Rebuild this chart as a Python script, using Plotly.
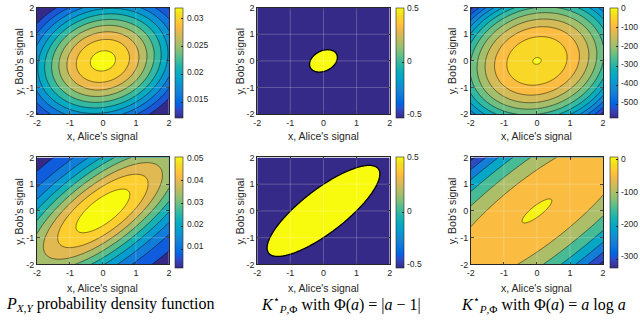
import numpy as np
import plotly.graph_objects as go

# ---------------- data ----------------
tick_vals = [-2, -1, 0, 1, 2]
tick_text = ["-2", "-1", "0", "1", "2"]
grid_vals = [-1, 0, 1]

# P_{X,Y}: peak value, curvature along the diagonal (u) and anti-diagonal (v)
pdf_peak = [0.0306, 0.048]
pdf_diag = [0.120, 0.0558]
pdf_anti = [0.158, 0.37]
pdf_levels = [[0.012, 0.030, 0.002], [0.005, 0.045, 0.005]]
pdf_crange = [[0.0122, 0.032], [0.0015, 0.0502]]
pdf_cticks = [[0.015, 0.02, 0.025, 0.03], [0.01, 0.02, 0.03, 0.04, 0.05]]
pdf_ctext = [["0.015", "0.02", "0.025", "0.03"], ["0.01", "0.02", "0.03", "0.04", "0.05"]]

# K* with Phi(a)=|a-1|: +0.5 inside an ellipse, -0.5 outside (semi-axes along diagonal / anti-diagonal)
tv_semi_diag = [0.48, 2.29]
tv_semi_anti = [0.35, 0.74]
tv_crange = [-0.5, 0.5]
tv_cticks = [-0.5, 0, 0.5]
tv_ctext = ["-0.5", "0", "0.5"]

# K* with Phi(a)=a log a: peak value, curvature along diagonal / anti-diagonal
kl_peak = [1.0, 1.3]
kl_diag = [53.75, 3.5]
kl_anti = [71.25, 40.0]
kl_levels = [[-550, 0, 50], [-300, 0, 50]]
kl_crange = [[-567, 3], [-326, 6]]
kl_cticks = [[-500, -400, -300, -200, -100, 0], [-300, -200, -100, 0]]
kl_ctext = [["-500", "-400", "-300", "-200", "-100", "0"], ["-300", "-200", "-100", "0"]]
kl_band_rule = ["even", "lower"]

x_title = "x, Alice's signal"
y_title = "y, Bob's signal"
captions = [
    "<i>P</i><sub><i>X,Y</i></sub> probability density function",
    "<i>K</i><sup>\u22c6</sup><sub><i>P</i>,\u03a6</sub> with \u03a6(<i>a</i>) = |<i>a</i> \u2212 1|",
    "<i>K</i><sup>\u22c6</sup><sub><i>P</i>,\u03a6</sub> with \u03a6(<i>a</i>) = <i>a</i> log <i>a</i>",
]

# ---------------- style ----------------
PARULA_RGB = np.array([
    [0.2081, 0.1663, 0.5292], [0.2116, 0.1898, 0.5777], [0.2123, 0.2138, 0.6270], [0.2081, 0.2386, 0.6771],
    [0.1959, 0.2645, 0.7279], [0.1707, 0.2919, 0.7792], [0.1253, 0.3242, 0.8303], [0.0591, 0.3598, 0.8683],
    [0.0117, 0.3875, 0.8820], [0.0060, 0.4086, 0.8828], [0.0165, 0.4266, 0.8786], [0.0329, 0.4430, 0.8720],
    [0.0498, 0.4586, 0.8641], [0.0629, 0.4737, 0.8554], [0.0723, 0.4887, 0.8467], [0.0779, 0.5040, 0.8384],
    [0.0793, 0.5200, 0.8312], [0.0749, 0.5375, 0.8263], [0.0641, 0.5570, 0.8240], [0.0488, 0.5772, 0.8228],
    [0.0343, 0.5966, 0.8199], [0.0265, 0.6137, 0.8135], [0.0239, 0.6287, 0.8038], [0.0231, 0.6418, 0.7913],
    [0.0228, 0.6535, 0.7768], [0.0267, 0.6642, 0.7607], [0.0384, 0.6743, 0.7436], [0.0590, 0.6838, 0.7254],
    [0.0843, 0.6928, 0.7062], [0.1133, 0.7015, 0.6859], [0.1453, 0.7098, 0.6646], [0.1801, 0.7177, 0.6424],
    [0.2178, 0.7250, 0.6193], [0.2586, 0.7317, 0.5954], [0.3022, 0.7376, 0.5712], [0.3482, 0.7424, 0.5473],
    [0.3953, 0.7459, 0.5244], [0.4420, 0.7481, 0.5033], [0.4871, 0.7491, 0.4840], [0.5300, 0.7491, 0.4661],
    [0.5709, 0.7485, 0.4494], [0.6099, 0.7473, 0.4337], [0.6473, 0.7456, 0.4188], [0.6834, 0.7435, 0.4044],
    [0.7184, 0.7411, 0.3905], [0.7525, 0.7384, 0.3768], [0.7858, 0.7356, 0.3633], [0.8185, 0.7327, 0.3498],
    [0.8507, 0.7299, 0.3360], [0.8824, 0.7274, 0.3217], [0.9139, 0.7258, 0.3063], [0.9450, 0.7261, 0.2886],
    [0.9739, 0.7314, 0.2666], [0.9938, 0.7455, 0.2403], [0.9990, 0.7653, 0.2164], [0.9955, 0.7861, 0.1967],
    [0.9880, 0.8066, 0.1794], [0.9789, 0.8271, 0.1633], [0.9697, 0.8481, 0.1475], [0.9626, 0.8705, 0.1309],
    [0.9589, 0.8949, 0.1132], [0.9598, 0.9218, 0.0948], [0.9661, 0.9514, 0.0755], [0.9763, 0.9831, 0.0538],
])


def rgb_str(c):
    return "rgb(%d,%d,%d)" % tuple(int(round(v * 255)) for v in c)


PARULA = [[i / 63, rgb_str(c)] for i, c in enumerate(PARULA_RGB)]


def parula_at(t):
    t = min(max(t, 0.0), 1.0) * 63
    i = min(int(np.floor(t)), 62)
    f = t - i
    return rgb_str(PARULA_RGB[i] * (1 - f) + PARULA_RGB[i + 1] * f)


def band_scale(levels, crange, rule):
    start, end, step = levels
    n = int(round((end - start) / step)) + 1
    if rule == "even":
        return PARULA
    lo, hi = crange
    stops = []
    for k in range(n + 1):
        lower = lo if k == 0 else start + (k - 1) * step
        stops.append([k / n, parula_at((lower - lo) / (hi - lo))])
    return stops


W, H = 640, 321
DARK = "#262626"
TICK_FONT = dict(family="Liberation Sans, Arial", size=9, color=DARK)
CB_FONT = dict(family="Liberation Sans, Arial", size=8.5, color=DARK)
LABEL_FONT = dict(family="Liberation Sans, Arial", size=10.5, color=DARK)
CAP_FONT = dict(family="Liberation Serif, Times New Roman", size=16, color="black")

col_px = [(33.3, 166.7), (256.0, 390.0), (472.0, 605.7)]
row_px = [(2.7, 112.7), (157.3, 267.8)]
cbar_px = [173.3, 396.0, 612.3]
cbar_w = 8
ytitle_px = [15.0, 238.3, 453.3]
xtitle_py = [135.0, 291.7]
caption_px = [107.0, 341.0, 545.5]
caption_py = 309.0


def px(xp):
    return xp / W


def py(yp):
    return 1 - yp / H


# ---------------- fields ----------------
xs = np.linspace(-2, 2, 161)
ys = np.linspace(-2, 2, 161)
X, Y = np.meshgrid(xs, ys)
U = (X + Y) / np.sqrt(2)
V = (Y - X) / np.sqrt(2)

fig = go.Figure()
layout_axes = {}
shapes = []
annotations = []

panels = []
for r in range(2):
    panels.append(dict(
        z=pdf_peak[r] * np.exp(-(pdf_diag[r] * U ** 2 + pdf_anti[r] * V ** 2)),
        levels=pdf_levels[r], crange=pdf_crange[r], cticks=pdf_cticks[r], ctext=pdf_ctext[r], lw=0.5,
        scale=PARULA))
    panels.append(dict(
        z=1 - (U / tv_semi_diag[r]) ** 2 - (V / tv_semi_anti[r]) ** 2,
        levels=[0, 0, 1], crange=tv_crange, cticks=tv_cticks, ctext=tv_ctext, lw=1.3,
        scale=PARULA))
    panels.append(dict(
        z=kl_peak[r] - kl_diag[r] * U ** 2 - kl_anti[r] * V ** 2,
        levels=kl_levels[r], crange=kl_crange[r], cticks=kl_cticks[r], ctext=kl_ctext[r], lw=0.5,
        scale=band_scale(kl_levels[r], kl_crange[r], kl_band_rule[r])))

for k, p in enumerate(panels):
    r, c = divmod(k, 3)
    i = k + 1
    xa, ya = "x%d" % i, "y%d" % i
    fig.add_trace(go.Contour(
        x=xs, y=ys, z=p["z"], xaxis=xa, yaxis=ya,
        colorscale=p["scale"], autocontour=False,
        contours=dict(start=p["levels"][0], end=p["levels"][1], size=p["levels"][2],
                      coloring="fill", showlines=True),
        line=dict(color="black", width=p["lw"]),
        showscale=False, hoverinfo="skip"))
    lo, hi = p["crange"]
    top, bot = row_px[r]
    fig.add_trace(go.Scatter(
        x=[0], y=[0], xaxis=xa, yaxis=ya, mode="markers", hoverinfo="skip", showlegend=False,
        marker=dict(size=1, opacity=0, color=[lo], cmin=lo, cmax=hi, colorscale=PARULA, showscale=True,
                    colorbar=dict(x=px(cbar_px[c]), xanchor="left", xpad=0,
                                  y=py(top), yanchor="top", ypad=0,
                                  len=bot - top, lenmode="pixels",
                                  thickness=cbar_w, thicknessmode="pixels",
                                  outlinewidth=0.6, outlinecolor=DARK,
                                  ticks="inside", ticklen=2, tickcolor=DARK, tickwidth=0.6,
                                  tickvals=p["cticks"], showticklabels=False))))
    for v, t in zip(p["cticks"], p["ctext"]):
        yp = top + (hi - v) / (hi - lo) * (bot - top)
        annotations.append(dict(text=t, xref="paper", yref="paper", x=px(cbar_px[c] + cbar_w + 1.5),
                                y=py(yp), xanchor="left", yanchor="middle", showarrow=False,
                                font=CB_FONT))
    sfx = "" if i == 1 else str(i)
    common = dict(range=[-2, 2], tickvals=tick_vals, ticktext=tick_text, ticks="inside", ticklen=3,
                  tickcolor=DARK, tickwidth=0.6, showline=True, linecolor=DARK, linewidth=0.7,
                  mirror="ticks", showgrid=False, zeroline=False, tickfont=TICK_FONT,
                  layer="above traces", fixedrange=True)
    layout_axes["xaxis" + sfx] = dict(common, domain=[px(col_px[c][0]), px(col_px[c][1])], anchor=ya)
    layout_axes["yaxis" + sfx] = dict(common, domain=[py(bot), py(top)], anchor=xa)
    for g in grid_vals:
        shapes.append(dict(type="line", xref=xa, yref=ya, x0=g, x1=g, y0=-2, y1=2, layer="above",
                           line=dict(color="rgba(255,255,255,0.28)", width=0.8)))
        shapes.append(dict(type="line", xref=xa, yref=ya, x0=-2, x1=2, y0=g, y1=g, layer="above",
                           line=dict(color="rgba(255,255,255,0.28)", width=0.8)))
    annotations.append(dict(text=x_title, xref="paper", yref="paper",
                            x=px((col_px[c][0] + col_px[c][1]) / 2), y=py(xtitle_py[r]),
                            xanchor="center", yanchor="middle", showarrow=False, font=LABEL_FONT))
    annotations.append(dict(text=y_title, xref="paper", yref="paper", textangle=-90,
                            x=px(ytitle_px[c]), y=py((top + bot) / 2),
                            xanchor="center", yanchor="middle", showarrow=False, font=LABEL_FONT))

for c in range(3):
    annotations.append(dict(text=captions[c], xref="paper", yref="paper",
                            x=px(caption_px[c]), y=py(caption_py), xanchor="center", yanchor="middle",
                            showarrow=False, font=CAP_FONT))

fig.update_layout(width=W, height=H, margin=dict(l=0, r=0, t=0, b=0),
                  paper_bgcolor="white", plot_bgcolor="white", showlegend=False,
                  shapes=shapes, annotations=annotations, **layout_axes)
fig.write_html("out.html", include_plotlyjs=True, config=dict(displayModeBar=False),
               post_script="document.body.style.margin='0';document.body.style.overflow='hidden';")
